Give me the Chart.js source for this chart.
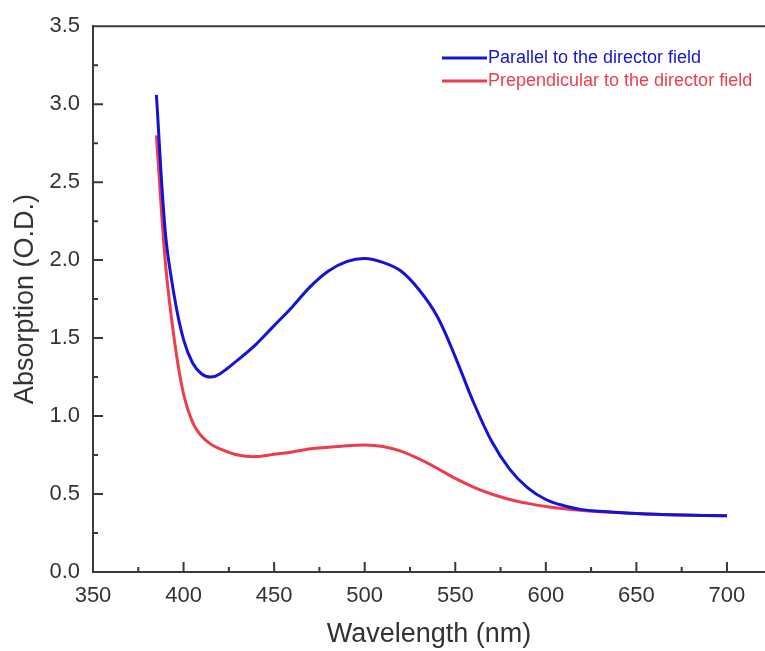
<!DOCTYPE html>
<html>
<head>
<meta charset="utf-8">
<script src="https://cdn.jsdelivr.net/npm/chart.js@4"></script>
<style>
  body { margin: 0; background: #fff; }
  canvas { display: block; }
</style>
</head>
<body>
<canvas id="myChart" width="765" height="651"></canvas>
<script>
// wavelengths in nm (shared by both curves)
var wavelengths = [385, 390, 395, 400, 405, 410, 415, 420, 430, 440, 450, 460, 470, 480, 490,
    500, 510, 520, 530, 540, 550, 560, 570, 580, 590, 600, 610, 620, 630, 650, 675, 700];

// absorption (O.D.)
var parallel = [3.06, 2.17, 1.76, 1.49, 1.34, 1.27, 1.25, 1.27, 1.36, 1.46, 1.58, 1.70, 1.83, 1.93, 1.99,
    2.01, 1.985, 1.93, 1.81, 1.64, 1.38, 1.09, 0.84, 0.66, 0.54, 0.465, 0.425, 0.40, 0.39, 0.375, 0.365, 0.36];
var perpendicular = [2.80, 1.98, 1.48, 1.14, 0.96, 0.87, 0.82, 0.79, 0.75, 0.74, 0.755, 0.77, 0.79, 0.80, 0.81,
    0.815, 0.805, 0.775, 0.725, 0.665, 0.60, 0.545, 0.50, 0.465, 0.44, 0.42, 0.405, 0.395, 0.387, 0.375, 0.365, 0.36];

var seriesLabels = ['Parallel to the director field', 'Prependicular to the director field'];
var xTicks = [350, 400, 450, 500, 550, 600, 650, 700];
var xMinor = [375, 425, 475, 525, 575, 625, 675];
var yTicks = [0, 0.5, 1.0, 1.5, 2.0, 2.5, 3.0, 3.5];
var yMinor = [0.25, 0.75, 1.25, 1.75, 2.25, 2.75, 3.25];

var axisColor = '#3a3a3a';
var blue = '#1414d2';
var red = '#ee3c4c';
var fontFamily = '"Liberation Sans", Arial, sans-serif';

var toPoints = (ys) => wavelengths.map((w, i) => ({ x: w, y: ys[i] }));

// inward ticks, top frame line and the in-plot legend
var frame = {
    id: 'frame',
    afterDraw: (chart) => {
        var ctx = chart.ctx;
        var a = chart.chartArea;
        var xs = chart.scales.x, ys = chart.scales.y;
        ctx.save();
        ctx.strokeStyle = axisColor;
        ctx.lineWidth = 2;
        ctx.beginPath();
        ctx.moveTo(a.left - 1, a.top);
        ctx.lineTo(a.right, a.top);
        xTicks.forEach(v => { var p = xs.getPixelForValue(v); ctx.moveTo(p, a.bottom); ctx.lineTo(p, a.bottom - 10); });
        xMinor.forEach(v => { var p = xs.getPixelForValue(v); ctx.moveTo(p, a.bottom); ctx.lineTo(p, a.bottom - 5); });
        yTicks.forEach(v => { var p = ys.getPixelForValue(v); ctx.moveTo(a.left, p); ctx.lineTo(a.left + 10, p); });
        yMinor.forEach(v => { var p = ys.getPixelForValue(v); ctx.moveTo(a.left, p); ctx.lineTo(a.left + 5, p); });
        ctx.stroke();

        // legend
        ctx.font = '18px ' + fontFamily;
        ctx.textBaseline = 'middle';
        chart.data.datasets.forEach((ds, i) => {
            var y = 58 + i * 23;
            ctx.strokeStyle = ds.borderColor;
            ctx.lineWidth = 3;
            ctx.beginPath();
            ctx.moveTo(442, y);
            ctx.lineTo(487, y);
            ctx.stroke();
            ctx.fillStyle = ds.borderColor;
            ctx.fillText(ds.label, 488, y);
        });
        ctx.restore();
    }
};

var ctx = document.getElementById('myChart').getContext('2d');
var chart = new Chart(ctx, {
    type: 'line',
    data: {
        datasets: [{
            label: seriesLabels[0],
            borderColor: blue,
            data: toPoints(parallel)
        }, {
            label: seriesLabels[1],
            borderColor: red,
            data: toPoints(perpendicular)
        }]
    },
    options: {
        responsive: false,
        animation: false,
        layout: { padding: { top: 24, right: 0, left: 0, bottom: 0 } },
        elements: {
            point: { radius: 0 },
            line: { borderWidth: 3, tension: 0.35, fill: false }
        },
        plugins: {
            legend: { display: false },
            tooltip: { enabled: false }
        },
        scales: {
            x: {
                type: 'linear',
                min: 350,
                max: 721,
                afterFit: (s) => { s.height = 79; },
                afterBuildTicks: (s) => { s.ticks = xTicks.map(v => ({ value: v })); },
                grid: { display: false, drawTicks: false },
                border: { display: true, color: axisColor, width: 2 },
                ticks: {
                    padding: 11,
                    maxRotation: 0,
                    autoSkip: false,
                    color: '#333',
                    font: { family: fontFamily, size: 22 }
                },
                title: {
                    display: true,
                    text: 'Wavelength (nm)',
                    color: '#333',
                    padding: { top: 0, bottom: 0 },
                    font: { family: fontFamily, size: 27 }
                }
            },
            y: {
                min: 0,
                max: 3.5,
                afterFit: (s) => { s.width = 93; },
                afterBuildTicks: (s) => { s.ticks = yTicks.map(v => ({ value: v })); },
                grid: { display: false, drawTicks: false },
                border: { display: true, color: axisColor, width: 2 },
                ticks: {
                    padding: 13,
                    color: '#333',
                    callback: (v) => Number(v).toFixed(1),
                    font: { family: fontFamily, size: 22 }
                },
                title: {
                    display: true,
                    text: 'Absorption (O.D.)',
                    color: '#333',
                    padding: { top: 9, bottom: 0 },
                    font: { family: fontFamily, size: 27 }
                }
            }
        }
    },
    plugins: [frame]
});
</script>
</body>
</html>
